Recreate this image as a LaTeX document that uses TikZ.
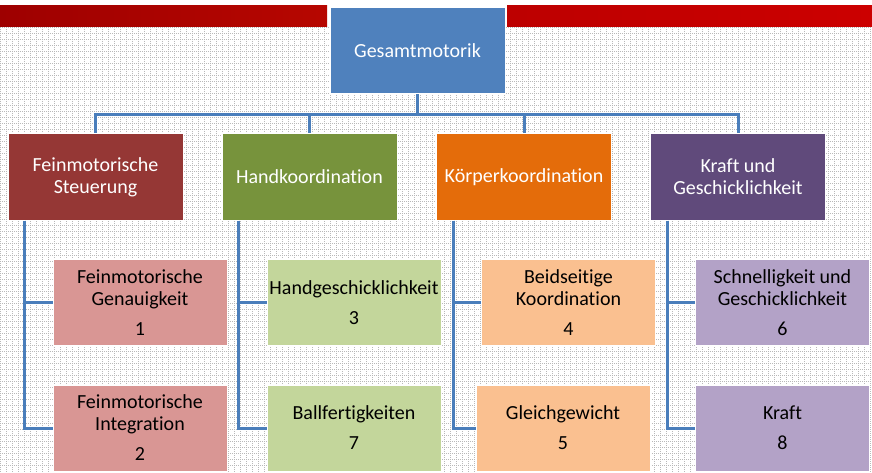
\documentclass[tikz,border=0pt]{standalone}
\usepackage{fontspec}
\setmainfont{Carlito}[Ligatures=NoCommon]
\usepackage{tikz}
\usetikzlibrary{positioning, calc, shapes}
\definecolor{rootblue}{HTML}{4F81BD}
\definecolor{connblue}{HTML}{4A7EBB}
\definecolor{fsred}{HTML}{953735}
\definecolor{hkgreen}{HTML}{77933C}
\definecolor{kkorange}{HTML}{E46C0A}
\definecolor{kgpurple}{HTML}{604A7B}
\definecolor{fslight}{HTML}{D99694}
\definecolor{hklight}{HTML}{C3D69B}
\definecolor{kklight}{HTML}{FAC090}
\definecolor{kglight}{HTML}{B3A2C7}
\tikzset{
	box/.style={draw=white,line width=1pt,inner sep=0pt,align=center,
		font=\fontsize{20}{22}\selectfont},
	topbox/.style={box,text=white,minimum width=175pt,minimum height=86pt},
	subbox/.style={box,text=black,minimum width=174pt,minimum height=86pt},
	conn/.style={connblue,line width=3pt}
}

\begin{document}
\begin{tikzpicture}[x=1pt,y=-1pt]

% set picture dimensions
\pgfmathsetmacro{\wdim}{872}
\pgfmathsetmacro{\hdim}{473}
\pgfmathsetmacro{\stub}{17}

\useasboundingbox (0,0) rectangle (\wdim,\hdim);

% background pattern
\fill[white] (0,0) rectangle (\wdim,\hdim);
\foreach \x in {0,6,...,870}
	\draw[gray!55,line width=1pt,dash pattern=on 1pt off 1pt] (\x+.5,27) -- (\x+.5,\hdim);
\foreach \y in {27,33,...,470}
	\draw[gray!55,line width=1pt,dash pattern=on 1pt off 1pt] (0,\y+.5) -- (\wdim,\y+.5);

% red bars on top
\shade[left color=red!62!black,right color=red!70!black!95!orange] (0,6) rectangle (327,27);
\shade[left color=red!74!black,right color=red!80!black] (507,6) rectangle (\wdim,27);

% root node
\node[topbox,fill=rootblue] (root) at (417.5,51) {Gesamtmotorik};

% first level
\node[topbox,fill=fsred] (fs) at (95.5,177) {Feinmotorische\\Steuerung};
\node[topbox,fill=hkgreen] (hk) at (309.5,177) {Handkoordination};
\node[topbox,fill=kkorange] (kk) at (524,177) {Körperkoordination};
\node[topbox,fill=kgpurple] (kg) at (738,177) {Kraft und\\Geschicklichkeit};

% second level
\node[subbox,fill=fslight] (fg) at (140,302.5) {Feinmotorische\\Genauigkeit\\[8pt]1};
\node[subbox,fill=fslight] (fi) at (140,428) {Feinmotorische\\Integration\\[8pt]2};
\node[subbox,fill=hklight] (hg) at (354,302.5) {Handgeschicklichkeit\\[8pt]3};
\node[subbox,fill=hklight] (bf) at (354,428) {Ballfertigkeiten\\[8pt]7};
\node[subbox,fill=kklight] (bk) at (568.5,302.5) {Beidseitige\\Koordination\\[8pt]4};
\node[subbox,fill=kklight] (gg) at (563,428) {Gleichgewicht\\[8pt]5};
\node[subbox,fill=kglight] (sg) at (782.5,302.5) {Schnelligkeit und\\Geschicklichkeit\\[8pt]6};
\node[subbox,fill=kglight] (kr) at (782.5,428) {Kraft\\[8pt]8};

% connectors from root to first level
\foreach \n in {fs,hk,kk,kg}
	\draw[conn] (root.south) -- ++(0,20) -| (\n.north);

% connectors from first level to second level
\foreach \p/\a/\b in {fs/fg/fi,hk/hg/bf,kk/bk/gg,kg/sg/kr}{
	\coordinate (\p s) at ($(\p.south west)+(\stub,0)$);
	\draw[conn] (\p s) |- (\a.west);
	\draw[conn] (\p s) |- (\b.west);
}

\end{tikzpicture}
\end{document}
